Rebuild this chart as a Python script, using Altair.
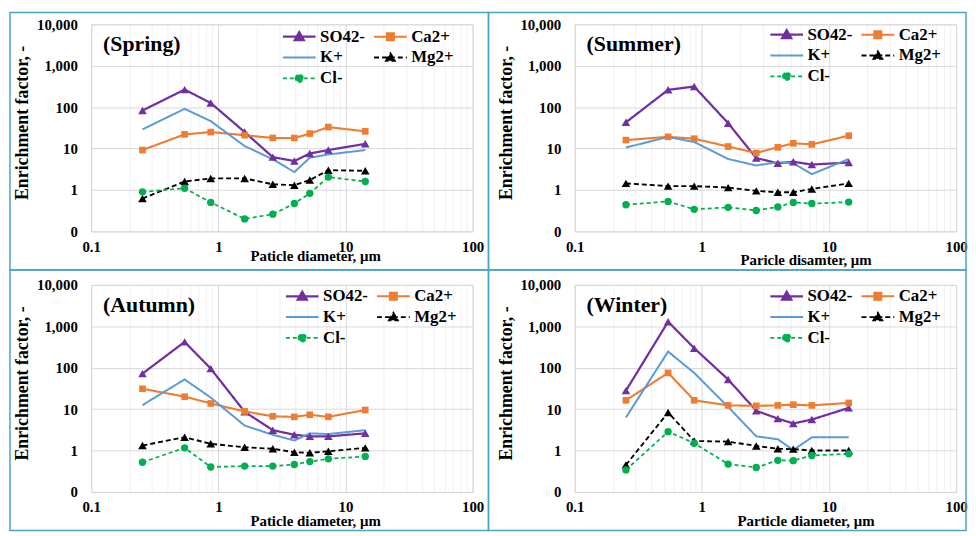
import altair as alt
import pandas as pd

FONT = "Liberation Serif"

# ---------------- data ----------------
diam = [0.253, 0.543, 0.871, 1.61, 2.68, 3.96, 5.24, 7.33, 14.3]
series = ["SO42-", "Ca2+", "K+", "Mg2+", "Cl-"]
seasons = ["Spring", "Summer", "Autumn", "Winter"]
x_titles = ["Paticle diameter, μm", "Paricle disamter, μm",
            "Paticle diameter, μm", "Particle diameter, μm"]

spring_so4 = [83, 265, 126, 25, 6.2, 5.0, 7.6, 9.2, 13]
spring_ca = [9.2, 22, 25, 21, 18, 18, 23, 33, 26]
spring_k = [29, 91, 46, 11.5, 5.5, 2.7, 6.0, 7.2, 9.2]
spring_mg = [0.62, 1.6, 1.9, 1.9, 1.37, 1.3, 1.74, 3.0, 2.9]
spring_cl = [0.9, 1.1, 0.5, 0.2, 0.26, 0.47, 0.83, 2.05, 1.6]

summer_so4 = [43, 262, 314, 41, 5.9, 4.4, 4.8, 4.1, 4.6]
summer_ca = [16, 19.2, 17.3, 11.2, 7.8, 10.7, 13.4, 12.6, 20.4]
summer_k = [10.6, 19, 14.4, 5.6, 3.9, 4.7, 4.4, 2.4, 5.6]
summer_mg = [1.44, 1.24, 1.24, 1.14, 0.95, 0.88, 0.88, 1.06, 1.44]
summer_cl = [0.44, 0.53, 0.34, 0.38, 0.32, 0.39, 0.50, 0.47, 0.51]

autumn_so4 = [72, 420, 95, 8.6, 3.1, 2.4, 2.2, 2.2, 2.6]
autumn_ca = [31, 20, 13.7, 8.8, 6.7, 6.5, 7.3, 6.5, 9.5]
autumn_k = [12.5, 52, 19, 4.0, 2.4, 1.74, 2.6, 2.5, 3.1]
autumn_mg = [1.32, 2.1, 1.45, 1.2, 1.1, 0.91, 0.88, 0.96, 1.16]
autumn_cl = [0.52, 1.16, 0.40, 0.42, 0.42, 0.46, 0.54, 0.63, 0.72]

winter_so4 = [28, 1290, 296, 52, 9.1, 5.9, 4.5, 5.6, 10.7]
winter_ca = [16.3, 75, 16.3, 12.3, 12, 12.3, 12.8, 12.3, 14.1]
winter_k = [6.3, 245, 75, 11.3, 2.2, 1.87, 1.03, 2.08, 2.08]
winter_mg = [0.45, 8.3, 1.7, 1.64, 1.29, 1.1, 1.08, 1.0, 1.0]
winter_cl = [0.34, 2.85, 1.5, 0.47, 0.39, 0.58, 0.57, 0.76, 0.83]

season_data = {
    "Spring": [spring_so4, spring_ca, spring_k, spring_mg, spring_cl],
    "Summer": [summer_so4, summer_ca, summer_k, summer_mg, summer_cl],
    "Autumn": [autumn_so4, autumn_ca, autumn_k, autumn_mg, autumn_cl],
    "Winter": [winter_so4, winter_ca, winter_k, winter_mg, winter_cl],
}

rows = []
for season in seasons:
    for name, vals in zip(series, season_data[season]):
        for d, v in zip(diam, vals):
            rows.append({"season": season, "s": name, "d": d, "v": v})
df = pd.DataFrame(rows)

# ---------------- styles ----------------
colors = ["#7030A0", "#ED7D31", "#5B9BD5", "#000000", "#00B050"]
dashes = [[1, 0], [1, 0], [1, 0], [5, 3], [4, 3]]
widths = [2.25, 1.75, 1.75, 2, 1.75]
LINE = "M-1,0L1,0"
legend_paths = [
    LINE + "M-0.28,0.21L0,-0.28L0.28,0.21Z",
    LINE + "M-0.21,-0.21L0.21,-0.21L0.21,0.21L-0.21,0.21Z",
    LINE,
    LINE + "M-0.27,0.2L0,-0.26L0.27,0.2Z",
    LINE + "M-0.23,0A0.23,0.23,0,1,1,0.23,0A0.23,0.23,0,1,1,-0.23,0Z",
]

fill_scale = alt.Scale(domain=series, range=colors)
stroke_scale = alt.Scale(domain=series, range=colors)
dash_scale = alt.Scale(domain=series, range=dashes)
width_scale = alt.Scale(domain=series, range=widths)
shape_scale = alt.Scale(domain=series, range=legend_paths)

x_values = [0.1, 0.2, 0.3, 0.4, 0.5, 0.6, 0.7, 0.8, 0.9,
            1, 2, 3, 4, 5, 6, 7, 8, 9,
            10, 20, 30, 40, 50, 60, 70, 80, 90, 100]
y_values = [0.1, 1, 10, 100, 1000, 10000]

W, H = 385, 209

# per-panel layout: (titleX, titleY, legendX, legendY, frame x, x2, y, y2)
layout = {
    "Spring": (226, 24, 192, 3, -82, 401, -12, 248),
    "Summer": (233, 28, 196, 1, -87, 395, -12, 248),
    "Autumn": (226, 29, 195, 2, -82, 401, -15, 248),
    "Winter": (233, 29, 196, 2, -87, 395, -15, 248),
}


def panel(season, xtitle):
    tx, ty, lx, ly, fx, fx2, fy, fy2 = layout[season]
    d = df[df.season == season]
    xaxis = alt.Axis(
        values=x_values, labelExpr="indexof([0.1,1,10,100], datum.value) >= 0 ? '' + datum.value : ''",
        title=xtitle, ticks=False, domain=False, labelOverlap=False, labelFlush=False,
        gridColor={"condition": {"test": "indexof([0.1,1,10,100], datum.value) >= 0", "value": "#D9D9D9"},
                   "value": "#F0F0F0"},
        labelFont=FONT, labelFontSize=15, labelFontWeight="bold", labelColor="black", labelPadding=8,
        titleFont=FONT, titleFontSize=15, titleFontWeight="bold", titleColor="black",
        titleX=tx, titleY=ty, titleAlign="center", titleBaseline="middle",
    )
    yaxis = alt.Axis(
        values=y_values, labelExpr="datum.value < 0.5 ? '0' : format(datum.value, ',')",
        title="Enrichment factor, -", ticks=False, domain=False, labelOverlap=False, labelFlush=False,
        gridColor="#D9D9D9",
        labelFont=FONT, labelFontSize=15, labelFontWeight="bold", labelColor="black", labelPadding=14,
        titleFont=FONT, titleFontSize=18, titleFontWeight="bold", titleColor="black", titlePadding=5,
        titleY=99,
    )
    x = alt.X("d:Q", scale=alt.Scale(type="log", domain=[0.1, 100], nice=False), axis=xaxis)
    y = alt.Y("v:Q", scale=alt.Scale(type="log", domain=[0.1, 10000], nice=False), axis=yaxis)
    base = alt.Chart(d).encode(x=x, y=y)

    leg = alt.Legend(
        title=None, orient="none", legendX=lx, legendY=ly, columns=2, direction="horizontal",
        columnPadding=7, rowPadding=2, clipHeight=19,
        symbolSize=1089, symbolStrokeWidth=2, labelOffset=3,
        labelFont=FONT, labelFontSize=17, labelFontWeight="bold", labelColor="black",
    )

    legend_layer = base.transform_filter("false").mark_point(filled=True, opacity=1).encode(
        fill=alt.Fill("s:N", scale=fill_scale, legend=leg),
        stroke=alt.Stroke("s:N", scale=stroke_scale, legend=leg),
        shape=alt.Shape("s:N", scale=shape_scale, legend=leg),
        strokeDash=alt.StrokeDash("s:N", scale=dash_scale, legend=leg),
    )
    lines = base.mark_line().encode(
        stroke=alt.Stroke("s:N", scale=stroke_scale, legend=leg),
        strokeDash=alt.StrokeDash("s:N", scale=dash_scale, legend=leg),
        strokeWidth=alt.StrokeWidth("s:N", scale=width_scale, legend=leg),
    )
    tri = base.transform_filter(alt.FieldOneOfPredicate(field="s", oneOf=["SO42-", "Mg2+"])).mark_point(
        shape="triangle-up", filled=True, size=75, opacity=1
    ).encode(fill=alt.Fill("s:N", scale=fill_scale, legend=leg))
    sq = base.transform_filter(alt.FieldEqualPredicate(field="s", equal="Ca2+")).mark_point(
        shape="square", filled=True, size=45, opacity=1
    ).encode(fill=alt.Fill("s:N", scale=fill_scale, legend=leg))
    circ = base.transform_filter(alt.FieldEqualPredicate(field="s", equal="Cl-")).mark_point(
        shape="circle", filled=True, size=55, opacity=1
    ).encode(fill=alt.Fill("s:N", scale=fill_scale, legend=leg))

    label = alt.Chart(pd.DataFrame({"t": [f"({season})"]})).mark_text(
        align="left", baseline="middle", font=FONT, fontSize=22, fontWeight="bold", color="black"
    ).encode(x=alt.value(12), y=alt.value(20), text="t:N")

    frame = alt.Chart(pd.DataFrame({"k": [0]})).mark_rect(
        fill="transparent", stroke="#4BA3C7", strokeWidth=1.5
    ).encode(x=alt.value(fx), x2=alt.value(fx2), y=alt.value(fy), y2=alt.value(fy2))

    return alt.layer(legend_layer, frame, lines, tri, sq, circ, label).properties(width=W, height=H)


panels = [panel(s, t) for s, t in zip(seasons, x_titles)]

chart = alt.concat(
    *panels, columns=2, spacing={"row": 54, "column": 103}, bounds="flush"
).resolve_scale(
    fill="independent", stroke="independent", shape="independent",
    strokeDash="independent", strokeWidth="independent",
).properties(
    padding=0, background="white"
).configure(
    font=FONT
).configure_view(
    stroke="#D9D9D9", strokeWidth=1
).configure_legend(
    labelFont=FONT, labelFontSize=17, labelFontWeight="bold", labelColor="black"
)

chart.save("out.html", embed_options={"renderer": "svg", "actions": False})
